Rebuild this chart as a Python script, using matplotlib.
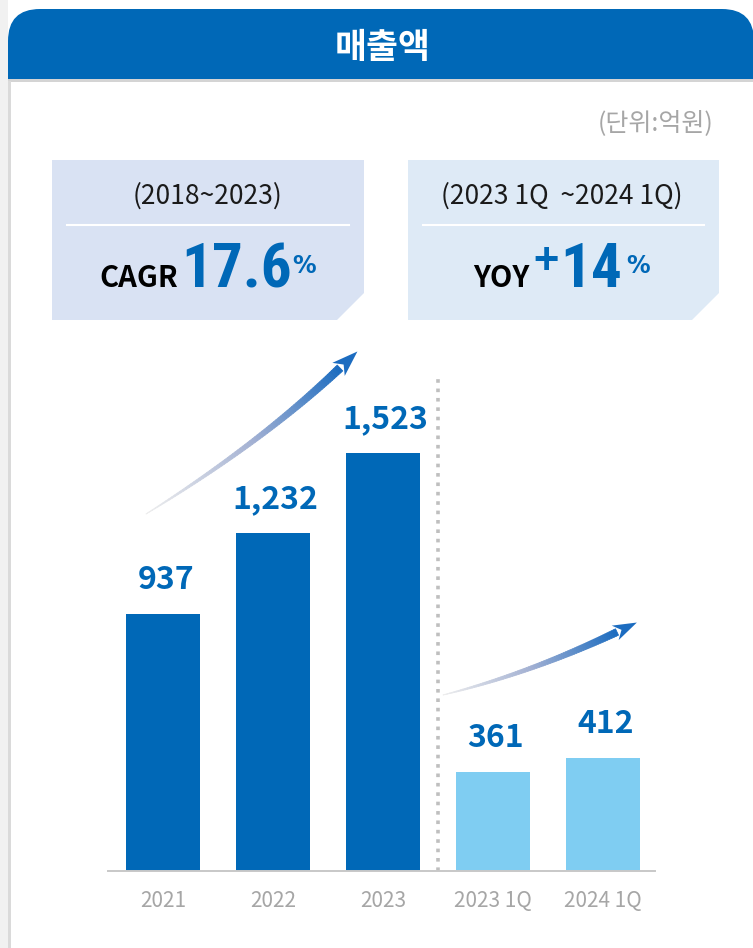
import numpy as np
import matplotlib
matplotlib.use("Agg")
import matplotlib.pyplot as plt
from matplotlib.patches import Polygon, Rectangle, FancyBboxPatch
from matplotlib.collections import PolyCollection
from matplotlib.colors import to_rgb

plt.rcParams['font.family'] = ['Noto Sans CJK KR', 'DejaVu Sans']

# data
categories = ['2021', '2022', '2023', '2023 1Q', '2024 1Q']
revenue = [937, 1232, 1523, 361, 412]
bar_colors = ['#0068b7', '#0068b7', '#0068b7', '#7fcdf2', '#7fcdf2']

title = '매출액'
unit_label = '(단위:억원)'
cagr_period = '(2018~2023)'
cagr_value = '17.6'
yoy_period = '(2023 1Q  ~2024 1Q)'
yoy_value = '14'

BLUE = '#0068b7'
GREY_TXT = '#a6a6a6'
NARROW = ['Roboto Condensed', 'Roboto', 'DejaVu Sans']

W, H = 753, 948
fig = plt.figure(figsize=(W / 100, H / 100), dpi=100)
fig.patch.set_facecolor('white')

# background layer in pixel coordinates
bg = fig.add_axes([0, 0, 1, 1])
bg.set_xlim(0, W)
bg.set_ylim(H, 0)
bg.axis('off')

# header with rounded top corners
bg.add_patch(FancyBboxPatch((8 + 32, 9 + 32), 754 - 8 - 64, 100,
                            boxstyle='round,pad=32,rounding_size=32',
                            color=BLUE, lw=0))
bg.add_patch(Rectangle((0, 79), W, H, color='white', lw=0))
bg.add_patch(Rectangle((0, 0), 8, H, color='#f1f1f1', lw=0))
bg.add_patch(Rectangle((8, 79), W, 3, color='#d4d4d4', lw=0))
bg.add_patch(Rectangle((8, 81), 3, H, color='#dadada', lw=0))
bg.text(383, 47, title, color='white', fontsize=25, fontweight='bold',
        ha='center', va='center')

bg.text(714, 123, unit_label, color=GREY_TXT, fontsize=18, ha='right', va='center')


def info_box(x0, x1, color):
    y0, y1 = 160, 320
    cut = 27
    bg.add_patch(Polygon([(x0, y0), (x1, y0), (x1, y1 - cut), (x1 - cut, y1), (x0, y1)],
                         closed=True, color=color, lw=0))
    bg.plot([x0 + 15, x1 - 15], [225, 225], color='white', lw=1.5)


info_box(52, 364, '#d9e2f3')
info_box(408, 719, '#deeaf6')

bg.text(208, 196, cagr_period, fontsize=19, color='#1a1a1a', ha='center', va='center')
bg.text(562, 196, yoy_period, fontsize=19, color='#1a1a1a', ha='center', va='center')

# headline figures, placed piece by piece
bg.text(99, 287, 'CAGR', fontsize=21, fontweight='bold', color='black', va='baseline')
bg.text(181, 287, cagr_value, fontsize=44, fontweight='bold', color=BLUE,
        va='baseline', family=NARROW)
bg.text(292, 273, '%', fontsize=17, fontweight='bold', color=BLUE,
        va='baseline', family='DejaVu Sans')

bg.text(473, 287, 'YOY', fontsize=21, fontweight='bold', color='black', va='baseline')
bg.text(533, 258, '+', fontsize=31, fontweight='bold', color=BLUE,
        va='center_baseline')
bg.text(560, 287, yoy_value, fontsize=44, fontweight='bold', color=BLUE,
        va='baseline', family=NARROW)
bg.text(626, 273, '%', fontsize=17, fontweight='bold', color=BLUE,
        va='baseline', family='DejaVu Sans')


def grad_arrow(p0, p1, p2, head_len=24, head_w=9, wmax=7, n=80):
    p0, p1, p2 = map(np.array, (p0, p1, p2))
    t = np.linspace(0, 1, n)[:, None]
    pts = (1 - t) ** 2 * p0 + 2 * (1 - t) * t * p1 + t ** 2 * p2
    tan = 2 * (1 - t) * (p1 - p0) + 2 * t * (p2 - p1)
    tan = tan / np.linalg.norm(tan, axis=1, keepdims=True)
    nrm = np.column_stack([-tan[:, 1], tan[:, 0]])
    half = (wmax / 2) * t[:, 0] ** 0.8
    left = pts + nrm * half[:, None]
    right = pts - nrm * half[:, None]
    stops = [to_rgb('#eeeeee'), to_rgb('#a3b1d3'), to_rgb('#1c6cc0')]
    quads, cols = [], []
    for i in range(n - 1):
        quads.append([left[i], left[i + 1], right[i + 1], right[i]])
        s = i / (n - 2)
        if s < 0.5:
            a, b, f = stops[0], stops[1], s / 0.5
        else:
            a, b, f = stops[1], stops[2], (s - 0.5) / 0.5
        cols.append(tuple(a[k] + (b[k] - a[k]) * f for k in range(3)))
    bg.add_collection(PolyCollection(quads, facecolors=cols, edgecolors=cols, lw=0.6))
    d = tan[-1]
    nn = nrm[-1]
    tip = p2 + d * head_len
    notch = p2 + d * 5
    head = [tip, p2 + nn * head_w - d * 2, notch, p2 - nn * head_w - d * 2]
    bg.add_patch(Polygon(head, closed=True, color='#1c6cc0', lw=0))


grad_arrow((146, 514), (262, 442), (340, 368), wmax=8)
grad_arrow((443, 695), (531, 673), (617, 632), head_len=22, head_w=8, wmax=7)

# bar chart
ax = fig.add_axes([108 / W, 77 / H, 547 / W, 531 / H])
ax.patch.set_alpha(0)
x = np.arange(len(categories))
bars = ax.bar(x, revenue, width=0.673, color=bar_colors, zorder=2)
ax.set_xlim(-0.5, 4.473)
ax.set_ylim(0, 1935)
for s in ['top', 'left', 'right']:
    ax.spines[s].set_visible(False)
ax.spines['bottom'].set_color('#c8c8c8')
ax.spines['bottom'].set_linewidth(1.4)
ax.set_yticks([])
ax.set_xticks(x)
ax.set_xticklabels(categories, fontsize=15, color=GREY_TXT)
ax.tick_params(axis='x', length=0, pad=14)

for xi, v in zip(x, revenue):
    ax.annotate(f'{v:,}', (xi, v), xytext=(2, 18), textcoords='offset points',
                ha='center', va='baseline', fontsize=23, fontweight='bold', color=BLUE)

ax.axvline(2.5, ymin=0, ymax=0.934, color='#bfbfbf', lw=2.6,
           linestyle=(0, (1, 1.6)), zorder=1)

fig.savefig('out.png', dpi=100)
